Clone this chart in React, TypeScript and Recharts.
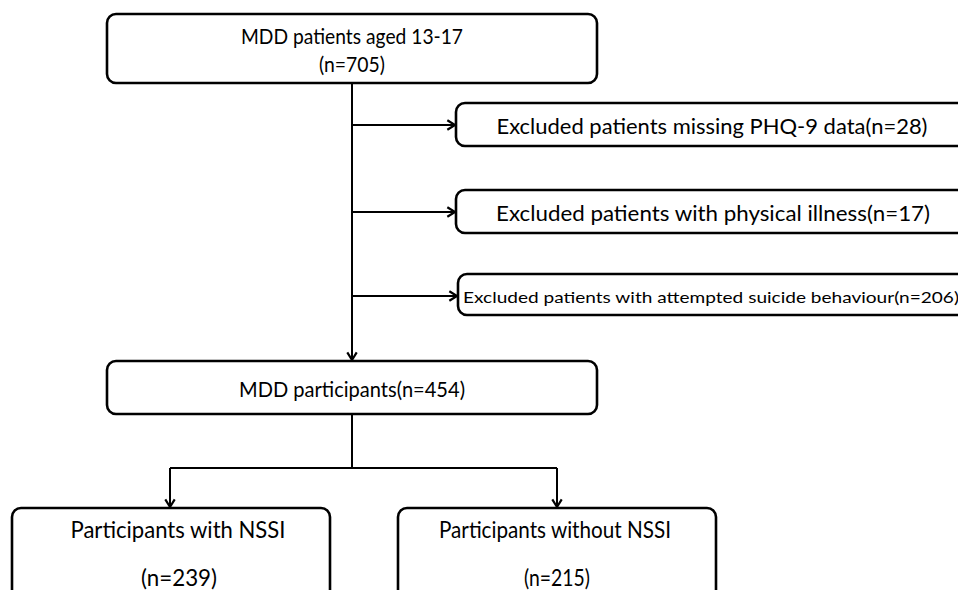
import React from 'react';
import { ComposedChart, XAxis, YAxis, Scatter, ReferenceArea, ReferenceLine } from 'recharts';

// flowchart content
const nodeTexts: string[][] = [
  ['MDD patients aged 13-17', '(n=705)'],
  ['Excluded patients missing PHQ-9 data(n=28)'],
  ['Excluded patients with physical illness(n=17)'],
  ['Excluded patients with attempted suicide behaviour(n=206)'],
  ['MDD participants(n=454)'],
  ['Participants with NSSI', '(n=239)'],
  ['Participants without NSSI', '(n=215)'],
];

// box bounds in page units: x1, x2, y1, y2
const nodeBoxes: number[][] = [
  [107, 597, 14, 83],
  [456, 980, 103, 146],
  [456, 980, 190, 233],
  [458, 980, 274, 315],
  [107, 597, 361, 414],
  [12, 330, 508, 620],
  [398, 716, 508, 620],
];

// text anchor per line: x, y, width, font size
const textLayout: number[][][] = [
  [[352, 35, 222, 22], [352, 63, 66, 22]],
  [[712, 125, 431, 22]],
  [[713, 212, 434, 22]],
  [[711, 296, 496, 16]],
  [[352, 388, 226, 22]],
  [[178, 528, 215, 24], [179, 576, 76, 24]],
  [[555, 528, 232, 24], [557, 576, 66, 24]],
];

// connectors: from, to, arrowhead at end
const connectors: { from: number[]; to: number[]; arrow: boolean }[] = [
  { from: [352, 83], to: [352, 360], arrow: true },
  { from: [352, 125], to: [455, 125], arrow: true },
  { from: [352, 212], to: [455, 212], arrow: true },
  { from: [352, 296], to: [457, 296], arrow: true },
  { from: [352, 414], to: [352, 468], arrow: false },
  { from: [170, 468], to: [557, 468], arrow: false },
  { from: [170, 468], to: [170, 507], arrow: true },
  { from: [557, 468], to: [557, 507], arrow: true },
];

const labelData = nodeTexts.flatMap((lines, i) =>
  lines.map((text, j) => {
    const [x, y, w, size] = textLayout[i][j];
    return { x, y, w, size, text };
  })
);

const FONT = 'Lato, "Noto Sans", sans-serif';

const ArrowLine = (arrow: boolean) => (p: any) => {
  const { x1, y1, x2, y2 } = p;
  const ang = Math.atan2(y2 - y1, x2 - x1);
  const len = 9;
  const spread = 0.55;
  const ax = x2 - len * Math.cos(ang - spread);
  const ay = y2 - len * Math.sin(ang - spread);
  const bx = x2 - len * Math.cos(ang + spread);
  const by = y2 - len * Math.sin(ang + spread);
  return (
    <g>
      <line x1={x1} y1={y1} x2={x2} y2={y2} stroke="#000" strokeWidth={2} />
      {arrow && (
        <path
          d={`M${ax},${ay} L${x2},${y2} L${bx},${by}`}
          fill="none"
          stroke="#000"
          strokeWidth={2.2}
          strokeLinejoin="miter"
        />
      )}
    </g>
  );
};

const BoxShape = (p: any) => (
  <rect
    x={p.x}
    y={p.y}
    width={p.width}
    height={p.height}
    rx={9}
    ry={9}
    fill="#fff"
    stroke="#000"
    strokeWidth={2.6}
  />
);

const LabelShape = (p: any) => {
  const d = p.payload;
  return (
    <text
      x={p.cx}
      y={p.cy}
      textAnchor="middle"
      dominantBaseline="central"
      fontFamily={FONT}
      fontSize={d.size}
      fill="#000"
      textLength={d.w}
      lengthAdjust="spacingAndGlyphs"
    >
      {d.text}
    </text>
  );
};

export default function App() {
  return (
    <div style={{ position: 'absolute', left: 0, top: 0, background: '#fff' }}>
      <ComposedChart
        width={958}
        height={590}
        data={labelData}
        margin={{ top: 0, right: 0, bottom: 0, left: 0 }}
      >
        <XAxis type="number" dataKey="x" domain={[0, 958]} allowDataOverflow hide />
        <YAxis type="number" dataKey="y" domain={[0, 590]} reversed allowDataOverflow hide />
        {connectors.map((c, i) => (
          <ReferenceLine
            key={`c${i}`}
            segment={[
              { x: c.from[0], y: c.from[1] },
              { x: c.to[0], y: c.to[1] },
            ]}
            ifOverflow="visible"
            shape={ArrowLine(c.arrow)}
          />
        ))}
        {nodeBoxes.map((b, i) => (
          <ReferenceArea
            key={`b${i}`}
            x1={b[0]}
            x2={b[1]}
            y1={b[2]}
            y2={b[3]}
            ifOverflow="visible"
            shape={BoxShape}
          />
        ))}
        <Scatter data={labelData} dataKey="y" shape={LabelShape} isAnimationActive={false} />
      </ComposedChart>
    </div>
  );
}
